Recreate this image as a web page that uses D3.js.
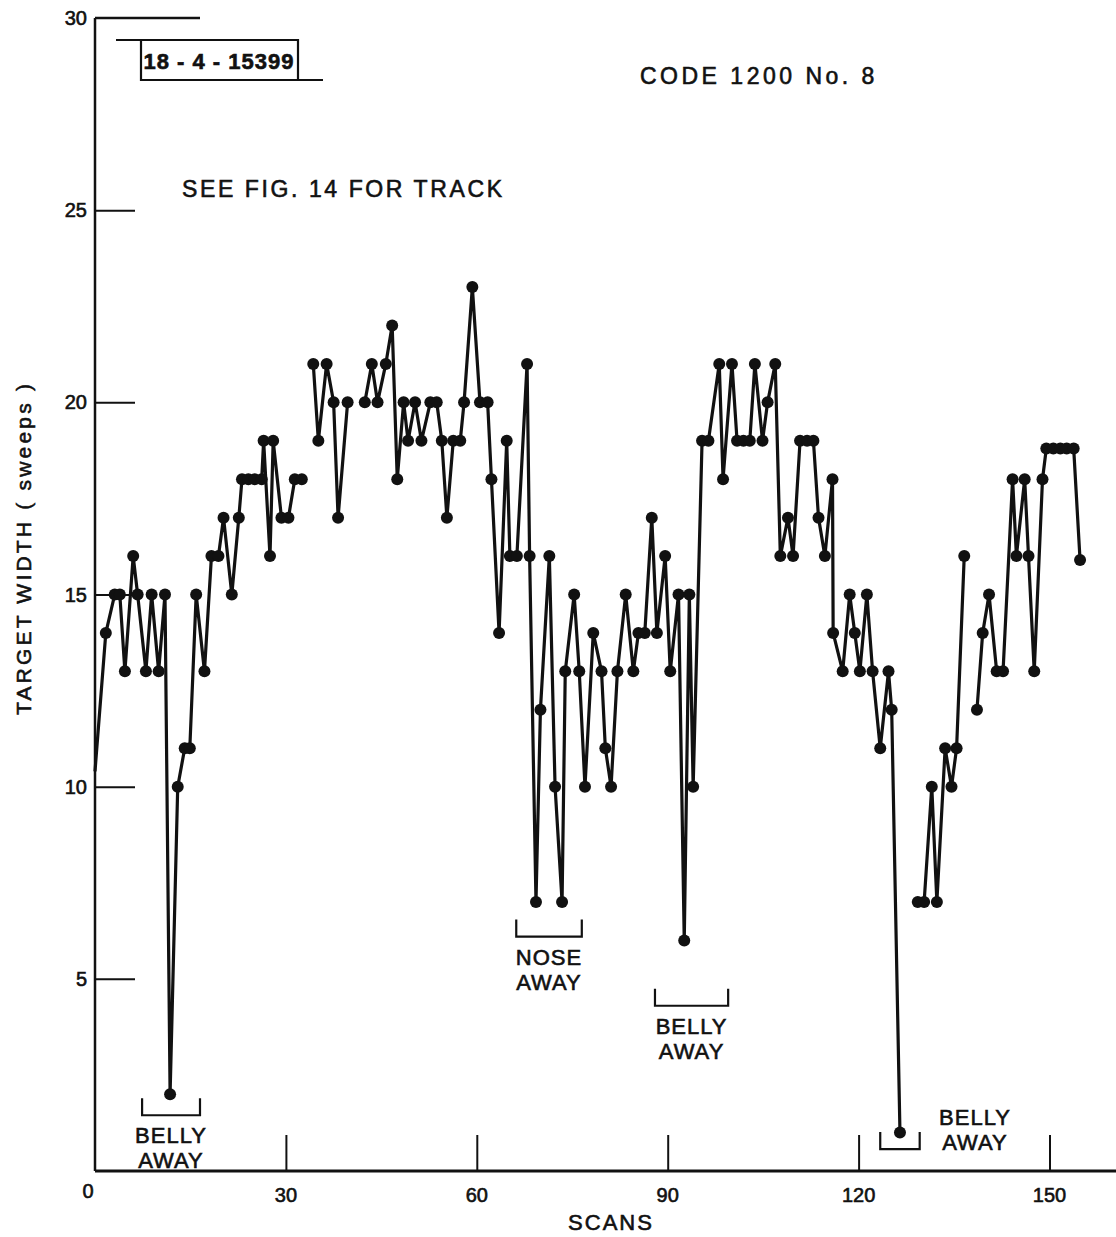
<!DOCTYPE html>
<html>
<head>
<meta charset="utf-8">
<script src="https://cdn.jsdelivr.net/npm/d3@7"></script>
<style>
  html, body { margin: 0; padding: 0; background: #fff; }
  svg text { font-family: "Liberation Sans", Arial, sans-serif; fill: #111; stroke: #111; stroke-width: 0.6; }
</style>
</head>
<body>
<svg id="chart" width="1116" height="1237"></svg>
<script>
// Target width per scan; null marks a break in the record.
const scans = [
  0, 1.7, 3.1, 3.9, 4.7, 6.0, 6.7, 8.0, 8.9, 10.0, 11.0, 11.8, 13.0, 14.1, 14.9, 15.9,
  17.2, 18.3, 19.4, 20.2, 21.5, 22.6, 23.1, 24.1, 25.1, 26.2, 26.5, 27.5, 28.0, 29.3,
  30.4, 31.4, 32.5, null,
  34.3, 35.1, 36.4, 37.5, 38.2, 39.7, null,
  42.4, 43.5, 44.4, 45.7, 46.7, 47.5, 48.5, 49.2, 50.3, 51.3, 52.7, 53.7, 54.5, 55.3,
  56.3, 57.4, 58.0, 59.3, 60.5, 61.7, 62.3, 63.5, 64.7, 65.2, 66.3, 67.9, 68.3, 69.3,
  70.0, 71.4, 72.3, 73.4, 73.9, 75.3, 76.1, 77.0, 78.3, 79.6, 80.2, 81.1, 82.1, 83.4,
  84.6, 85.4, 86.4, 87.5, 88.3, 89.6, 90.4, 91.7, 92.6, 93.4, 94.0, 95.4, 96.4, 98.1,
  98.7, 100.1, 100.9, 101.9, 102.9, 103.7, 104.9, 105.7, 106.9, 107.7, 108.9, 109.7,
  110.8, 111.9, 112.9, 113.7, 114.7, 115.9, 116.0, 117.5, 118.6, 119.4, 120.2, 121.3,
  122.2, 123.4, 124.7, 125.2, 126.5, null,
  129.3, 130.3, 131.5, 132.3, 133.6, 134.6, 135.4, 136.6, null,
  138.6, 139.5, 140.5, 141.7, 142.7, 144.2, 144.8, 146.1, 146.7, 147.6, 148.9, 149.5,
  150.6, 151.7, 152.7, 153.8, 154.8
];
const widths = [
  10.4, 14, 15, 15, 13, 16, 15, 13, 15, 13, 15, 2, 10, 11, 11, 15,
  13, 16, 16, 17, 15, 17, 18, 18, 18, 18, 19, 16, 19, 17,
  17, 18, 18, null,
  21, 19, 21, 20, 17, 20, null,
  20, 21, 20, 21, 22, 18, 20, 19, 20, 19, 20, 20, 19, 17,
  19, 19, 20, 23, 20, 20, 18, 14, 19, 16, 16, 21, 16, 7,
  12, 16, 10, 7, 13, 15, 13, 10, 14, 13, 11, 10, 13, 15,
  13, 14, 14, 17, 14, 16, 13, 15, 6, 15, 10, 19, 19, 21,
  18, 21, 19, 19, 19, 21, 19, 20, 21, 16, 17, 16,
  19, 19, 19, 17, 16, 18, 14, 13, 15, 14, 13, 15,
  13, 11, 13, 12, 1, null,
  7, 7, 10, 7, 11, 10, 11, 16, null,
  12, 14, 15, 13, 13, 18, 16, 18, 16, 13, 18, 18.8,
  18.8, 18.8, 18.8, 18.8, 15.9
];

// Axis ticks
const xTicks = [0, 30, 60, 90, 120, 150];
const yTicks = [5, 10, 15, 20, 25, 30];

// Bracketed notes: scan span, bracket level (sweeps), label lines
const noteFrom  = [7.4, 66.2, 88.0, 123.4];
const noteTo    = [16.5, 76.5, 99.5, 129.6];
const noteLevel = [1.45, 6.1, 4.3, 0.57];
const noteText  = [["BELLY", "AWAY"], ["NOSE", "AWAY"], ["BELLY", "AWAY"], ["BELLY", "AWAY"]];

const svg = d3.select("#chart");
const x = d3.scaleLinear().domain([0, 150]).range([95, 1049.5]);
const y = d3.scaleLinear().domain([0, 30]).range([1171, 18]);

const ink = "#111";
const points = scans.map((s, i) => ({ s, v: widths[i] }));

// Frame: left axis, base line and top stub
svg.append("line").attr("x1", x(0)).attr("x2", x(0)).attr("y1", y(30)).attr("y2", y(0))
  .attr("stroke", ink).attr("stroke-width", 2.5);
svg.append("line").attr("x1", x(0)).attr("x2", 1116).attr("y1", y(0)).attr("y2", y(0))
  .attr("stroke", ink).attr("stroke-width", 3.2);
svg.append("line").attr("x1", x(0)).attr("x2", 200).attr("y1", y(30)).attr("y2", y(30))
  .attr("stroke", ink).attr("stroke-width", 2.5);

// Y axis: ticks point into the plot
const yAxis = d3.axisRight(y).tickValues(yTicks.filter(t => t < 30)).tickSize(40).tickFormat("");
svg.append("g").attr("transform", `translate(${x(0)},0)`).call(yAxis)
  .call(g => g.select(".domain").remove())
  .call(g => g.selectAll("line").attr("stroke", ink).attr("stroke-width", 2));
svg.append("g").selectAll("text").data(yTicks).join("text")
  .attr("x", 87).attr("y", d => y(d) + 7).attr("text-anchor", "end")
  .attr("font-size", 20).text(d => d);

// X axis: ticks point up from the base line
const xAxis = d3.axisTop(x).tickValues(xTicks.filter(t => t > 0)).tickSize(36).tickFormat("");
svg.append("g").attr("transform", `translate(0,${y(0)})`).call(xAxis)
  .call(g => g.select(".domain").remove())
  .call(g => g.selectAll("line").attr("stroke", ink).attr("stroke-width", 2));
svg.append("g").selectAll("text").data(xTicks).join("text")
  .attr("x", d => d === 0 ? x(d) - 7 : x(d)).attr("y", d => d === 0 ? 1198 : 1202)
  .attr("text-anchor", "middle").attr("font-size", 20).text(d => d);

// Axis titles
svg.append("text").attr("x", 611).attr("y", 1230).attr("text-anchor", "middle")
  .attr("font-size", 22).attr("letter-spacing", 2).text("SCANS");
svg.append("text").attr("transform", "translate(31,548) rotate(-90)")
  .attr("text-anchor", "middle").attr("font-size", 21).attr("letter-spacing", 3.2)
  .text("TARGET WIDTH ( sweeps )");

// Data line and dots
const line = d3.line().defined(d => d.v !== null).x(d => x(d.s)).y(d => y(d.v));
svg.append("path").datum(points).attr("d", line)
  .attr("fill", "none").attr("stroke", ink).attr("stroke-width", 3.2).attr("stroke-linejoin", "round");
svg.append("g").selectAll("circle").data(points.filter(d => d.v !== null && d.s > 0)).join("circle")
  .attr("cx", d => x(d.s)).attr("cy", d => y(d.v)).attr("r", 6).attr("fill", ink);

// Bracket notes
noteFrom.forEach((f, i) => {
  const x0 = x(f), x1 = x(noteTo[i]), yb = y(noteLevel[i]);
  svg.append("path").attr("d", `M${x0},${yb - 17}V${yb}H${x1}V${yb - 17}`)
    .attr("fill", "none").attr("stroke", ink).attr("stroke-width", 2.2);
  const cx = i === 3 ? 975 : (x0 + x1) / 2;
  const ty = i === 3 ? 1125 : yb + 28;
  noteText[i].forEach((t, k) => {
    svg.append("text").attr("x", cx).attr("y", ty + k * 25).attr("text-anchor", "middle")
      .attr("font-size", 22).attr("letter-spacing", 1).text(t);
  });
});

// Figure identifiers
const idBox = svg.append("g");
idBox.append("path").attr("d", "M116,40H298V80H141V40M298,80H323")
  .attr("fill", "none").attr("stroke", ink).attr("stroke-width", 2.2);
idBox.append("text").attr("x", 219).attr("y", 69).attr("text-anchor", "middle")
  .attr("font-size", 22).attr("font-weight", "bold").attr("letter-spacing", 1).text("18 - 4 - 15399");
svg.append("text").attr("x", 640).attr("y", 84).attr("font-size", 23).attr("letter-spacing", 3.5)
  .text("CODE  1200  No. 8");
svg.append("text").attr("x", 182).attr("y", 197).attr("font-size", 23).attr("letter-spacing", 2.6)
  .text("SEE  FIG. 14  FOR TRACK");
</script>
</body>
</html>
